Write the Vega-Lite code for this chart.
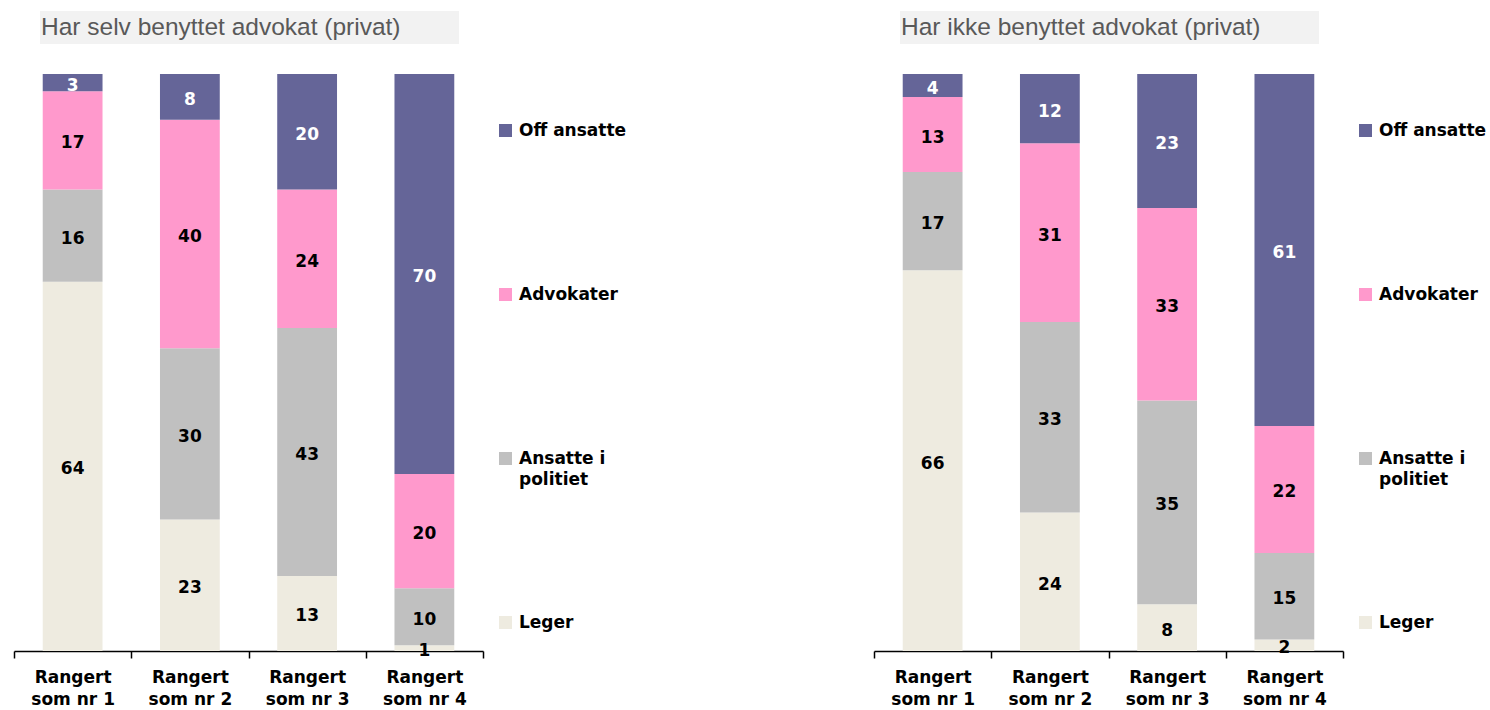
{
  "$schema": "https://vega.github.io/schema/vega-lite/v6.json",
  "padding": {"left": 13, "top": 11, "right": 0, "bottom": 0},
  "background": "white",
  "config": {"view": {"stroke": null}, "font": "DejaVu Sans", "style": {"guide-label": {"lineHeight": 21}}},
  "datasets": {
    "selv": [
      {"rank": "Rangert som nr 1", "category": "Leger", "value": 64},
      {"rank": "Rangert som nr 1", "category": "Ansatte i politiet", "value": 16},
      {"rank": "Rangert som nr 1", "category": "Advokater", "value": 17},
      {"rank": "Rangert som nr 1", "category": "Off ansatte", "value": 3},
      {"rank": "Rangert som nr 2", "category": "Leger", "value": 23},
      {"rank": "Rangert som nr 2", "category": "Ansatte i politiet", "value": 30},
      {"rank": "Rangert som nr 2", "category": "Advokater", "value": 40},
      {"rank": "Rangert som nr 2", "category": "Off ansatte", "value": 8},
      {"rank": "Rangert som nr 3", "category": "Leger", "value": 13},
      {"rank": "Rangert som nr 3", "category": "Ansatte i politiet", "value": 43},
      {"rank": "Rangert som nr 3", "category": "Advokater", "value": 24},
      {"rank": "Rangert som nr 3", "category": "Off ansatte", "value": 20},
      {"rank": "Rangert som nr 4", "category": "Leger", "value": 1},
      {"rank": "Rangert som nr 4", "category": "Ansatte i politiet", "value": 10},
      {"rank": "Rangert som nr 4", "category": "Advokater", "value": 20},
      {"rank": "Rangert som nr 4", "category": "Off ansatte", "value": 70}
    ],
    "ikke": [
      {"rank": "Rangert som nr 1", "category": "Leger", "value": 66},
      {"rank": "Rangert som nr 1", "category": "Ansatte i politiet", "value": 17},
      {"rank": "Rangert som nr 1", "category": "Advokater", "value": 13},
      {"rank": "Rangert som nr 1", "category": "Off ansatte", "value": 4},
      {"rank": "Rangert som nr 2", "category": "Leger", "value": 24},
      {"rank": "Rangert som nr 2", "category": "Ansatte i politiet", "value": 33},
      {"rank": "Rangert som nr 2", "category": "Advokater", "value": 31},
      {"rank": "Rangert som nr 2", "category": "Off ansatte", "value": 12},
      {"rank": "Rangert som nr 3", "category": "Leger", "value": 8},
      {"rank": "Rangert som nr 3", "category": "Ansatte i politiet", "value": 35},
      {"rank": "Rangert som nr 3", "category": "Advokater", "value": 33},
      {"rank": "Rangert som nr 3", "category": "Off ansatte", "value": 23},
      {"rank": "Rangert som nr 4", "category": "Leger", "value": 2},
      {"rank": "Rangert som nr 4", "category": "Ansatte i politiet", "value": 15},
      {"rank": "Rangert som nr 4", "category": "Advokater", "value": 22},
      {"rank": "Rangert som nr 4", "category": "Off ansatte", "value": 61}
    ]
  },
  "spacing": 246,
  "resolve": {"scale": {"color": "independent"}},
  "hconcat": [
    {
      "spacing": 30,
      "vconcat": [
        {
          "width": 469, "height": 33,
          "data": {"values": [{"t": "Har selv benyttet advokat (privat)"}]},
          "layer": [
            {"mark": {"type": "rect", "color": "#f2f2f2"},
             "encoding": {"x": {"datum": 26, "type": "quantitative", "scale": {"domain": [0, 469], "nice": false, "zero": false}, "axis": null}, "x2": {"datum": 445}}},
            {"mark": {"type": "text", "align": "left", "baseline": "middle", "font": "Liberation Sans", "fontSize": 24.5, "color": "#595959"},
             "encoding": {"x": {"datum": 27, "type": "quantitative"}, "text": {"field": "t"}}}
          ]
        },
        {
          "width": 469, "height": 577,
          "data": {"name": "selv"},
          "transform": [{"calculate": "indexof(['Leger', 'Ansatte i politiet', 'Advokater', 'Off ansatte'], datum.category)", "as": "stackOrder"}],
          "encoding": {
            "x": {"field": "rank", "type": "nominal", "title": null,
                  "scale": {"paddingInner": 0, "paddingOuter": 0},
                  "axis": {"labelExpr": "datum.label && length(datum.label) > 0 ? ['Rangert', replace(datum.label, 'Rangert ', '')] : ''", "labelAngle": 0, "domainColor": "black", "domainWidth": 1.5, "tickColor": "black", "tickWidth": 1.5, "tickSize": 7, "tickBand": "extent", "labelFont": "DejaVu Sans", "labelFontWeight": "bold", "labelFontSize": 17, "labelColor": "black", "labelPadding": 11, "labelLineHeight": 22, "labelBaseline": "top"}},
            "y": {"field": "value", "type": "quantitative", "stack": "normalize", "axis": null},
            "order": {"field": "stackOrder", "type": "quantitative"}
          },
          "layer": [
            {"mark": {"type": "bar", "width": {"band": 0.51}},
             "encoding": {
               "color": {"field": "category", "type": "nominal",
                         "scale": {"domain": ["Off ansatte", "Advokater", "Ansatte i politiet", "Leger"], "range": ["#656598", "#ff99cc", "#c0c0c0", "#eeebe0"]},
                         "legend": {"orient": "none", "legendX": 483, "legendY": 111, "title": null, "symbolType": "square", "symbolSize": 169, "symbolStrokeWidth": 0, "labelFont": "DejaVu Sans", "labelFontWeight": "bold", "labelFontSize": 17, "labelColor": "black", "labelOffset": 5, "rowPadding": 125, "padding": 0, "labelLimit": 300,
                                    "labelExpr": "datum.label == 'Ansatte i politiet' ? ['Ansatte i', 'politiet'] : [datum.label, '']"}}
             }},
            {"mark": {"type": "text", "font": "DejaVu Sans", "fontWeight": "bold", "fontSize": 17, "baseline": "middle", "dy": 3},
             "encoding": {
               "y": {"field": "value", "type": "quantitative", "stack": "normalize", "bandPosition": 0.5},
               "text": {"field": "value"},
               "color": {"condition": {"test": "datum.category == 'Off ansatte'", "value": "white"}, "value": "black"}
             }}
          ]
        }
      ]
    },
    {
      "spacing": 30,
      "vconcat": [
        {
          "width": 469, "height": 33,
          "data": {"values": [{"t": "Har ikke benyttet advokat (privat)"}]},
          "layer": [
            {"mark": {"type": "rect", "color": "#f2f2f2"},
             "encoding": {"x": {"datum": 26, "type": "quantitative", "scale": {"domain": [0, 469], "nice": false, "zero": false}, "axis": null}, "x2": {"datum": 445}}},
            {"mark": {"type": "text", "align": "left", "baseline": "middle", "font": "Liberation Sans", "fontSize": 24.5, "color": "#595959"},
             "encoding": {"x": {"datum": 27, "type": "quantitative"}, "text": {"field": "t"}}}
          ]
        },
        {
          "width": 469, "height": 577,
          "data": {"name": "ikke"},
          "transform": [{"calculate": "indexof(['Leger', 'Ansatte i politiet', 'Advokater', 'Off ansatte'], datum.category)", "as": "stackOrder"}],
          "encoding": {
            "x": {"field": "rank", "type": "nominal", "title": null,
                  "scale": {"paddingInner": 0, "paddingOuter": 0},
                  "axis": {"labelExpr": "datum.label && length(datum.label) > 0 ? ['Rangert', replace(datum.label, 'Rangert ', '')] : ''", "labelAngle": 0, "domainColor": "black", "domainWidth": 1.5, "tickColor": "black", "tickWidth": 1.5, "tickSize": 7, "tickBand": "extent", "labelFont": "DejaVu Sans", "labelFontWeight": "bold", "labelFontSize": 17, "labelColor": "black", "labelPadding": 11, "labelLineHeight": 22, "labelBaseline": "top"}},
            "y": {"field": "value", "type": "quantitative", "stack": "normalize", "axis": null},
            "order": {"field": "stackOrder", "type": "quantitative"}
          },
          "layer": [
            {"mark": {"type": "bar", "width": {"band": 0.51}},
             "encoding": {
               "color": {"field": "category", "type": "nominal",
                         "scale": {"domain": ["Off ansatte", "Advokater", "Ansatte i politiet", "Leger"], "range": ["#656598", "#ff99cc", "#c0c0c0", "#eeebe0"]},
                         "legend": {"orient": "none", "legendX": 483, "legendY": 111, "title": null, "symbolType": "square", "symbolSize": 169, "symbolStrokeWidth": 0, "labelFont": "DejaVu Sans", "labelFontWeight": "bold", "labelFontSize": 17, "labelColor": "black", "labelOffset": 5, "rowPadding": 125, "padding": 0, "labelLimit": 300,
                                    "labelExpr": "datum.label == 'Ansatte i politiet' ? ['Ansatte i', 'politiet'] : [datum.label, '']"}}
             }},
            {"mark": {"type": "text", "font": "DejaVu Sans", "fontWeight": "bold", "fontSize": 17, "baseline": "middle", "dy": 3},
             "encoding": {
               "y": {"field": "value", "type": "quantitative", "stack": "normalize", "bandPosition": 0.5},
               "text": {"field": "value"},
               "color": {"condition": {"test": "datum.category == 'Off ansatte'", "value": "white"}, "value": "black"}
             }}
          ]
        }
      ]
    }
  ]
}
